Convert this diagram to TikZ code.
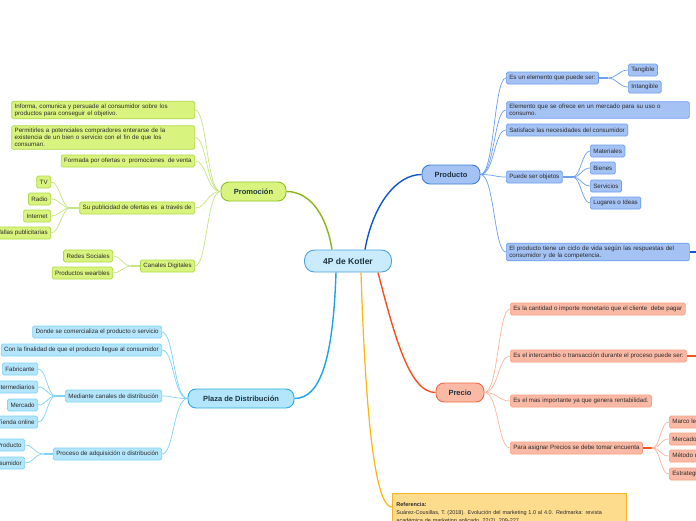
\documentclass[tikz,border=0pt]{standalone}
\usepackage{fontspec}
\setmainfont{Liberation Sans}
\usetikzlibrary{calc}

\definecolor{txt}{HTML}{2B2B2B}
\definecolor{hubtxt}{HTML}{1E3440}
\definecolor{kotlerfill}{HTML}{C9EBFB}
\definecolor{kotlerline}{HTML}{4BA3DE}
\definecolor{prodfill}{HTML}{A4C2F4}
\definecolor{prodline}{HTML}{6D9EEB}
\definecolor{prodhub}{HTML}{3D7FD6}
\definecolor{prodmain}{HTML}{1155CC}
\definecolor{promfill}{HTML}{D9F47E}
\definecolor{promline}{HTML}{AEDB45}
\definecolor{promedge}{HTML}{C5E482}
\definecolor{promhub}{HTML}{8DC21F}
\definecolor{prommain}{HTML}{8DB518}
\definecolor{plazafill}{HTML}{B3E5FC}
\definecolor{plazaline}{HTML}{7FD3F7}
\definecolor{plazahub}{HTML}{2AAAE2}
\definecolor{plazamain}{HTML}{1EA5E6}
\definecolor{preciofill}{HTML}{FAB9A5}
\definecolor{precioline}{HTML}{F8A080}
\definecolor{precioedge}{HTML}{FBB49C}
\definecolor{preciohub}{HTML}{EE6A45}
\definecolor{preciomain}{HTML}{F4511E}
\definecolor{reffill}{HTML}{FDDC8E}
\definecolor{refline}{HTML}{F5B323}
\definecolor{refedge}{HTML}{FBB50D}

\tikzset{
  kid/.style={draw, rounded corners=1.5, inner xsep=3, inner ysep=2.4, minimum height=12,
    line width=0.7, text=txt, font=\fontsize{6.2}{7}\selectfont},
  wide/.style={text width=177, align=left},
  prodkid/.style={kid, fill=prodfill, draw=prodline, anchor=west},
  promkid/.style={kid, fill=promfill, draw=promline, anchor=east},
  plazakid/.style={kid, fill=plazafill, draw=plazaline, anchor=east},
  preciokid/.style={kid, fill=preciofill, draw=precioline, anchor=west},
  hub/.style={draw, rounded corners=8, line width=0.9, minimum height=19, text=hubtxt,
    font=\fontsize{7.5}{9}\selectfont\bfseries},
  stub/.style={line width=1.6},
  thin/.style={line width=0.7}
}

\begin{document}
\begin{tikzpicture}[x=1pt,y=-1pt]
\useasboundingbox (0,0) rectangle (696,520);
\fill[white] (0,0) rectangle (696,520);
\clip (0,0) rectangle (696,520);

% main nodes
\node[hub, fill=kotlerfill, draw=kotlerline, minimum width=87, minimum height=22, rounded corners=10,
  font=\fontsize{8.5}{10}\selectfont\bfseries] (kotler) at (348,261) {4P de Kotler};
\node[hub, fill=prodfill, draw=prodhub, minimum width=58] (producto) at (451,174.5) {Producto};
\node[hub, fill=promfill, draw=promhub, minimum width=65] (promocion) at (253.5,191.5) {Promoción};
\node[hub, fill=plazafill, draw=plazahub, minimum width=106] (plaza) at (241,398.5) {Plaza de Distribución};
\node[hub, fill=preciofill, draw=preciohub, minimum width=48] (precio) at (460,392.5) {Precio};
\node[draw=refline, fill=reffill, line width=0.9, anchor=north west, text width=226, align=left,
  inner xsep=4, inner ysep=9, text=txt, font=\fontsize{5.5}{8}\selectfont] (ref) at (392,493)
  {{\bfseries Referencia:}\\Suárez-Cousillas, T. (2018). Evolución del marketing 1.0 al 4.0. Redmarka: revista\\académica de marketing aplicado, 22(2), 209-227.};

\draw[prodmain, line width=1.4] ($(kotler.north)+(17,0)$) .. controls +(8,-45) and +(-25,0) .. (producto.west);
\draw[prommain, line width=1.4] ($(kotler.north)+(-16,0)$) .. controls +(-5,-32) and +(25,0) .. (promocion.east);
\draw[plazamain, line width=1.4] ($(kotler.south)+(-12,0)$) .. controls +(-3,90) and +(25,0) .. (plaza.east);
\draw[preciomain, line width=1.4] ($(kotler.south)+(30,0)$) .. controls +(18,70) and +(-25,0) .. (precio.west);
\draw[refedge, line width=1.2] ($(kotler.south)+(13,0)$) .. controls +(6,190) and +(-12,0) .. ($(ref.north west)+(0,14)$);

% Producto
\node[prodkid] (p1) at (506,78) {Es un elemento que puede ser:};
\node[prodkid, wide] (p2) at (506,110) {Elemento que se ofrece en un mercado para su uso o\\consumo.};
\node[prodkid] (p3) at (506,130) {Satisface las necesidades del consumidor};
\node[prodkid] (p4) at (506,177) {Puede ser objetos};
\node[prodkid, wide] (p5) at (506,252) {El producto tiene un ciclo de vida según las respuestas del\\consumidor y de la competencia.};
\node[prodkid] (p11) at (628,70) {Tangible};
\node[prodkid] (p12) at (628,87) {Intangible};
\node[prodkid] (p41) at (590,151) {Materiales};
\node[prodkid] (p42) at (590,168) {Bienes};
\node[prodkid] (p43) at (590,186) {Servicios};
\node[prodkid] (p44) at (590,203) {Lugares o Ideas};
\coordinate (p5out) at (704,252);

\foreach \k in {p1,p2,p3,p4,p5}
  \draw[prodline, thin] (producto.east) .. controls +(14,0) and +(-12,0) .. (\k.west);
\draw[prodline, stub] (p1.east) -- ++(9,0) coordinate (p1s);
\foreach \k in {p11,p12}
  \draw[prodline, thin] (p1s) .. controls +(9,0) and +(-9,0) .. (\k.west);
\draw[prodline, stub] (p4.east) -- ++(10,0) coordinate (p4s);
\foreach \k in {p41,p42,p43,p44}
  \draw[prodline, thin] (p4s) .. controls +(8,0) and +(-8,0) .. (\k.west);
\draw[prodmain, stub] (p5.east) -- (p5out);

% Promocion
\node[promkid, wide] (r1) at (195,110) {Informa, comunica y persuade al consumidor sobre los\\productos para conseguir el objetivo.};
\node[promkid, wide] (r2) at (195,137.5) {Permitirles a potenciales compradores enterarse de la\\existencia de un bien o servicio con el fin de que los\\consuman.};
\node[promkid] (r3) at (195,161) {Formada por ofertas o \ promociones \ de venta};
\node[promkid] (r4) at (195,208) {Su publicidad de ofertas es \ a través de};
\node[promkid] (r5) at (195,266) {Canales Digitales};
\node[promkid] (r41) at (51,182) {TV};
\node[promkid] (r42) at (51,199) {Radio};
\node[promkid] (r43) at (51,216) {Internet};
\node[promkid] (r44) at (51,233) {Vallas publicitarias};
\node[promkid] (r51) at (113,256) {Redes Sociales};
\node[promkid] (r52) at (113,273) {Productos wearbles};

\foreach \k in {r1,r2,r3,r4,r5}
  \draw[promedge, thin] (promocion.west) .. controls +(-14,0) and +(12,0) .. (\k.east);
\draw[promedge, stub] (r4.west) -- ++(-9,0) coordinate (r4s);
\foreach \k in {r41,r42,r43,r44}
  \draw[promedge, thin] (r4s) .. controls +(-9,0) and +(9,0) .. (\k.east);
\draw[promedge, stub] (r5.west) -- ++(-9,0) coordinate (r5s);
\foreach \k in {r51,r52}
  \draw[promedge, thin] (r5s) .. controls +(-8,0) and +(8,0) .. (\k.east);

% Plaza de Distribucion
\node[plazakid] (z1) at (162,332) {Donde se comercializa el producto o servicio};
\node[plazakid] (z2) at (162,350) {Con la finalidad de que el producto llegue al consumidor};
\node[plazakid] (z3) at (162,396) {Mediante canales de distribución};
\node[plazakid] (z4) at (162,454) {Proceso de adquisición o distribución};
\node[plazakid] (z31) at (38,369) {Fabricante};
\node[plazakid] (z32) at (38,387) {Intermediarios};
\node[plazakid] (z33) at (38,405) {Mercado};
\node[plazakid] (z34) at (38,422) {Tienda online};
\node[plazakid] (z41) at (25,445) {Producto};
\node[plazakid] (z42) at (25,463) {Consumidor};

\foreach \k in {z1,z2,z3,z4}
  \draw[plazaline, thin] (plaza.west) .. controls +(-14,0) and +(12,0) .. (\k.east);
\draw[plazaline, stub] (z3.west) -- ++(-9,0) coordinate (z3s);
\foreach \k in {z31,z32,z33,z34}
  \draw[plazaline, thin] (z3s) .. controls +(-9,0) and +(9,0) .. (\k.east);
\draw[plazaline, stub] (z4.west) -- ++(-9,0) coordinate (z4s);
\foreach \k in {z41,z42}
  \draw[plazaline, thin] (z4s) .. controls +(-10,0) and +(9,0) .. (\k.east);

% Precio
\node[preciokid] (c1) at (510,309) {Es la cantidad o importe monetario que el cliente \ debe pagar};
\node[preciokid] (c2) at (510,356) {Es el intercambio o transacción durante el proceso puede ser:};
\node[preciokid] (c3) at (510,401) {Es el mas importante ya que genera rentabilidad.};
\node[preciokid] (c4) at (510,448) {Para asignar Precios se debe tomar encuenta};
\node[preciokid] (c41) at (669,422) {Marco legal};
\node[preciokid] (c42) at (669,439) {Mercado};
\node[preciokid] (c43) at (669,456) {Método de fijación};
\node[preciokid] (c44) at (669,474) {Estrategias};
\coordinate (c2out) at (704,356);

\foreach \k in {c1,c2,c3,c4}
  \draw[precioedge, thin] (precio.east) .. controls +(14,0) and +(-12,0) .. (\k.west);
\draw[preciomain, stub] (c4.east) -- ++(9,0) coordinate (c4s);
\foreach \k in {c41,c42,c43,c44}
  \draw[precioedge, thin] (c4s) .. controls +(9,0) and +(-9,0) .. (\k.west);
\draw[preciomain, stub] (c2.east) -- (c2out);
\end{tikzpicture}
\end{document}
